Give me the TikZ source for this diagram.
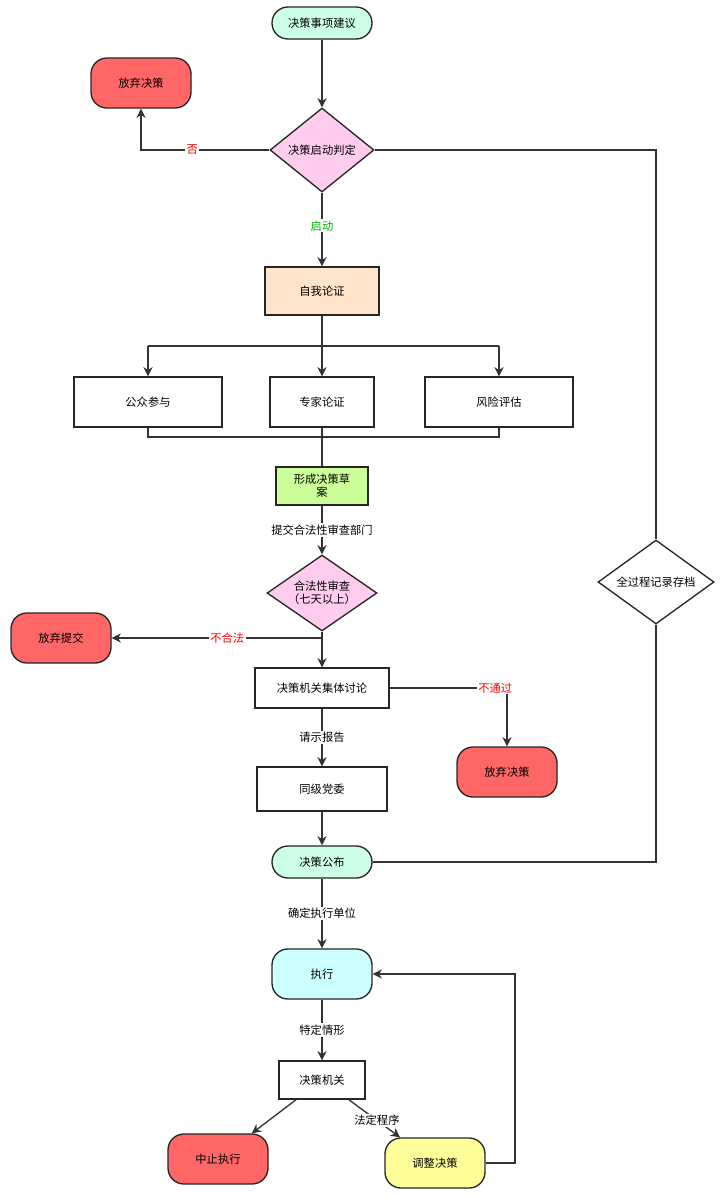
\documentclass[tikz,border=0pt]{standalone}
\usepackage{fontspec}
\setmainfont{Noto Sans CJK SC}
\usetikzlibrary{shapes.geometric,arrows.meta,positioning}
\definecolor{mint}{HTML}{CCFFE6}
\definecolor{redbox}{HTML}{FF6666}
\definecolor{pinkd}{HTML}{FFCCEE}
\definecolor{peach}{HTML}{FFE4CC}
\definecolor{lime}{HTML}{CCFF99}
\definecolor{cyanb}{HTML}{CCFFFF}
\definecolor{yell}{HTML}{FFFF99}
\tikzset{
	base/.style={draw=black!85,line width=1pt,font=\fontsize{8.5}{10}\selectfont,align=center,inner sep=1pt},
	term/.style={base,rounded corners=12pt},
	box/.style={base,rectangle},
	dec/.style={base,diamond,aspect=1.3,inner sep=0pt},
	lab/.style={fill=white,font=\fontsize{8.5}{10}\selectfont,inner sep=1pt},
	arr/.style={draw=black!80,line width=1pt,-{Stealth[length=7pt,width=7pt]}},
	ln/.style={draw=black!80,line width=1pt}
}
\begin{document}
\begin{tikzpicture}[x=0.0265cm,y=-0.0265cm]
	\fill[white] (0,0) rectangle (724,1196);
	% nodes
	\node[term,fill=mint,minimum width=100*0.0265cm,minimum height=32*0.0265cm] (start) at (322,23) {决策事项建议};
	\node[term,fill=redbox,minimum width=100*0.0265cm,minimum height=50*0.0265cm] (quit1) at (141,83) {放弃决策};
	\node[dec,fill=pinkd,minimum width=104*0.0265cm,minimum height=84*0.0265cm] (judge) at (322,150) {决策启动判定};
	\node[box,fill=peach,minimum width=114*0.0265cm,minimum height=48*0.0265cm] (self) at (322,291) {自我论证};
	\node[box,minimum width=148*0.0265cm,minimum height=50*0.0265cm] (public) at (148,402) {公众参与};
	\node[box,minimum width=104*0.0265cm,minimum height=50*0.0265cm] (expert) at (322,402) {专家论证};
	\node[box,minimum width=148*0.0265cm,minimum height=50*0.0265cm] (risk) at (499,402) {风险评估};
	\node[box,fill=lime,minimum width=92*0.0265cm,minimum height=38*0.0265cm] (draft) at (322,486) {形成决策草\\案};
	\node[dec,fill=pinkd,minimum width=110*0.0265cm,minimum height=74*0.0265cm] (legal) at (322,593) {合法性审查\\（七天以上）};
	\node[term,fill=redbox,minimum width=100*0.0265cm,minimum height=50*0.0265cm] (quit2) at (61,638) {放弃提交};
	\node[box,minimum width=134*0.0265cm,minimum height=40*0.0265cm] (discuss) at (322,688) {决策机关集体讨论};
	\node[term,fill=redbox,minimum width=100*0.0265cm,minimum height=50*0.0265cm] (quit3) at (507,772) {放弃决策};
	\node[box,minimum width=130*0.0265cm,minimum height=44*0.0265cm] (party) at (322,789) {同级党委};
	\node[term,fill=mint,minimum width=100*0.0265cm,minimum height=32*0.0265cm] (publish) at (322,862) {决策公布};
	\node[term,fill=cyanb,minimum width=100*0.0265cm,minimum height=50*0.0265cm] (exec) at (322,974) {执行};
	\node[box,minimum width=86*0.0265cm,minimum height=38*0.0265cm] (organ) at (322,1080) {决策机关};
	\node[term,fill=redbox,minimum width=100*0.0265cm,minimum height=50*0.0265cm] (stop) at (218,1159) {中止执行};
	\node[term,fill=yell,minimum width=100*0.0265cm,minimum height=50*0.0265cm] (adjust) at (435,1163) {调整决策};
	\node[dec,fill=white,minimum width=116*0.0265cm,minimum height=84*0.0265cm] (archive) at (656,582) {全过程记录存档};
	% connectors
	\draw[arr] (start) -- (judge);
	\draw[arr] (judge.west) -| node[lab,pos=0.3,text=red]{否} (quit1.south);
	\draw[arr] (judge) -- node[lab,pos=0.45,text=green!70!black]{启动} (self);
	\draw[ln] (judge.east) -| (archive.north);
	\draw[ln] (archive.south) |- (publish.east);
	\draw[ln] (self.south) -- (322,346);
	\draw[ln] (148,346) -- (499,346);
	\draw[arr] (148,346) -- (public);
	\draw[arr] (322,346) -- (expert);
	\draw[arr] (499,346) -- (risk);
	\draw[ln] (public.south) -- (148,437) -- (499,437) -- (risk.south);
	\draw[ln] (expert.south) -- (draft.north);
	\draw[arr] (draft) -- node[lab]{提交合法性审查部门} (legal);
	\draw[arr] (legal) -- (discuss);
	\draw[arr] (322,638) -- node[lab,pos=0.45,text=red]{不合法} (quit2.east);
	\draw[arr] (discuss.east) -| node[lab,pos=0.45,text=red]{不通过} (quit3.north);
	\draw[arr] (discuss) -- node[lab]{请示报告} (party);
	\draw[arr] (party) -- (publish);
	\draw[arr] (publish) -- node[lab]{确定执行单位} (exec);
	\draw[arr] (exec) -- node[lab]{特定情形} (organ);
	\draw[arr] (organ) -- (stop);
	\draw[arr] (organ) -- node[lab,pos=0.55]{法定程序} (adjust);
	\draw[arr] (adjust.east) -- (515,1163) -- (515,974) -- (exec.east);
\end{tikzpicture}
\end{document}
